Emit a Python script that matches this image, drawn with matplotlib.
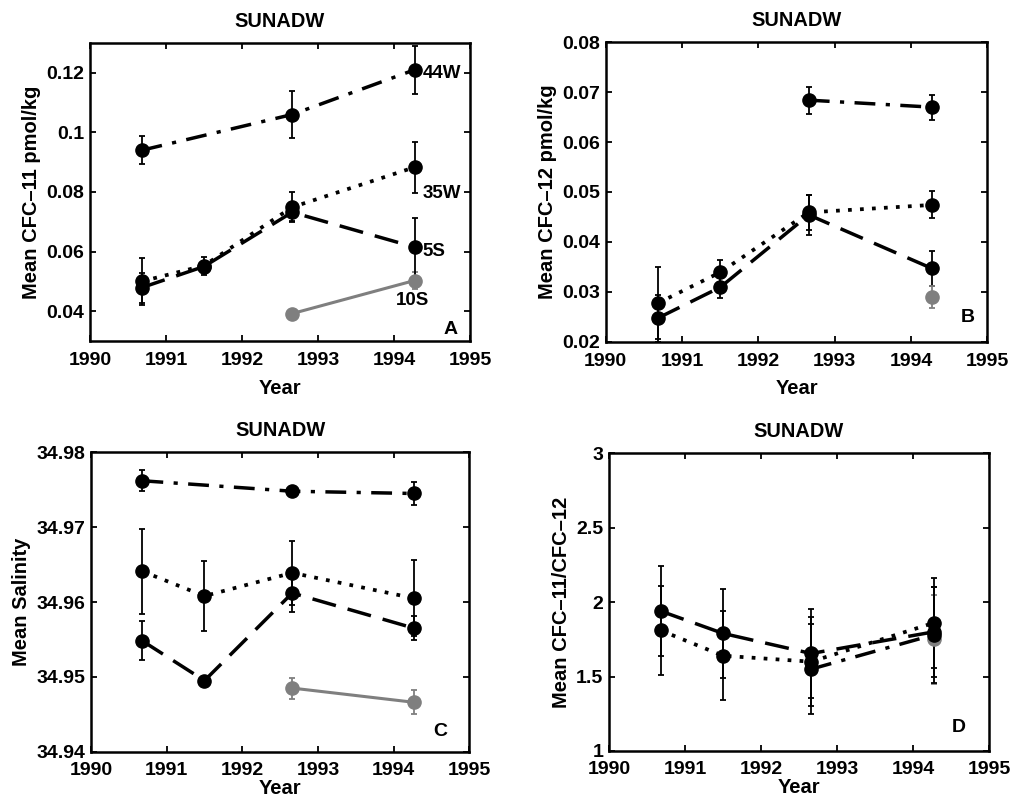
import matplotlib
matplotlib.use("Agg")
import matplotlib.pyplot as plt

plt.rcParams['font.family'] = ['Liberation Sans', 'DejaVu Sans']
plt.rcParams['font.weight'] = 'bold'

# ---------------- data ----------------
years4 = [1990.68, 1991.5, 1992.66, 1994.27]
years3 = [1990.68, 1992.66, 1994.27]
years2 = [1992.66, 1994.27]
years1 = [1994.27]

# Panel A: CFC-11
a_44w = [0.094, 0.106, 0.121]
a_44w_err = [0.0047, 0.008, 0.008]
a_35w = [0.050, 0.0553, 0.0749, 0.0883]
a_35w_err = [0.008, 0.003, 0.005, 0.0085]
a_5s = [0.0479, 0.055, 0.0732, 0.0615]
a_5s_err = [0.005, 0.002, 0.003, 0.0097]
a_10s = [0.0392, 0.0503]
a_10s_err = [0.001, 0.003]

# Panel B: CFC-12
b_44w = [0.0684, 0.0670]
b_44w_err = [0.0027, 0.0025]
b_35w = [0.0277, 0.0339, 0.0459, 0.0474]
b_35w_err = [0.0072, 0.0025, 0.0035, 0.0027]
b_5s = [0.0247, 0.0309, 0.0454, 0.0347]
b_5s_err = [0.0047, 0.0022, 0.004, 0.0035]
b_10s = [0.029]
b_10s_err = [0.0022]

# Panel C: salinity
c_44w = [34.9762, 34.9748, 34.9745]
c_44w_err = [0.0014, 0.0003, 0.0015]
c_35w = [34.9641, 34.9608, 34.9639, 34.9605]
c_35w_err = [0.0057, 0.0047, 0.0043, 0.0051]
c_5s = [34.9548, 34.9495, 34.9612, 34.9565]
c_5s_err = [0.0026, 0.0003, 0.0025, 0.0016]
c_10s = [34.9485, 34.9466]
c_10s_err = [0.0014, 0.0016]

# Panel D: ratio
d_35w = [1.81, 1.64, 1.60, 1.86]
d_35w_err = [0.30, 0.30, 0.30, 0.30]
d_5s = [1.94, 1.79, 1.655, 1.80]
d_5s_err = [0.30, 0.30, 0.30, 0.30]
d_44w = [1.55, 1.78]
d_44w_err = [0.30, 0.32]
d_10s = [1.75]
d_10s_err = [0.30]

xticks = [1990, 1991, 1992, 1993, 1994, 1995]
title = "SUNADW"

# ---------------- styles ----------------
BLACK = 'black'
GREY = '#7f7f7f'
st_44w = dict(color=BLACK, linestyle=(0, (6, 3, 1.2, 3)), lw=2.5)
st_35w = dict(color=BLACK, linestyle=(0, (1, 2.2)), lw=2.7)
st_5s = dict(color=BLACK, linestyle=(0, (7, 3.5)), lw=2.5)
st_10s = dict(color=GREY, linestyle='-', lw=2.2)

fig = plt.figure(figsize=(10.13, 8.02), dpi=100)

positions = [
    [0.0888, 0.5748, 0.3752, 0.3716],
    [0.5980, 0.5740, 0.3767, 0.3733],
    [0.0898, 0.0627, 0.3735, 0.3733],
    [0.6012, 0.0636, 0.3751, 0.3712],
]


def draw(ax, x, y, err, st, ms=9.5):
    ax.errorbar(x, y, yerr=err, fmt='none', ecolor=st['color'], elinewidth=1.3,
                capsize=2, capthick=1.3, zorder=2)
    ax.plot(x, y, color=st['color'], linestyle=st['linestyle'], lw=st['lw'],
            marker='o', markersize=ms, markerfacecolor=st['color'],
            markeredgecolor=st['color'], zorder=3)


def style(ax, ylim, yticks, yticklabels, ylabel, letter, letter_xy, xpad, xlabelpad):
    ax.set_xlim(1990, 1995)
    ax.set_ylim(*ylim)
    ax.set_xticks(xticks)
    ax.set_yticks(yticks)
    ax.set_xticklabels([str(t) for t in xticks], fontsize=14, fontweight='bold')
    ax.set_yticklabels(yticklabels, fontsize=14, fontweight='bold')
    ax.tick_params(direction='in', length=4, width=1.3, top=True, right=True)
    ax.tick_params(axis='x', pad=xpad)
    ax.tick_params(axis='y', pad=4)
    for sp in ax.spines.values():
        sp.set_linewidth(1.8)
    ax.set_title(title, fontsize=14.4, fontweight='bold', pad=11.5)
    ax.set_xlabel('Year', fontsize=14.5, fontweight='bold', labelpad=xlabelpad)
    ax.set_ylabel(ylabel, fontsize=14.5, fontweight='bold', labelpad=4)
    ax.text(letter_xy[0], letter_xy[1], letter, fontsize=14, fontweight='bold',
            ha='center', va='center')


# Panel A
ax = fig.add_axes(positions[0])
draw(ax, years2, a_10s, a_10s_err, st_10s)
draw(ax, years4, a_5s, a_5s_err, st_5s)
draw(ax, years4, a_35w, a_35w_err, st_35w)
draw(ax, years3, a_44w, a_44w_err, st_44w)
style(ax, (0.03, 0.13), [0.04, 0.06, 0.08, 0.1, 0.12],
      ['0.04', '0.06', '0.08', '0.1', '0.12'], 'Mean CFC\u201311 pmol/kg', 'A',
      (1994.74, 0.0337), 8, 7)
ax.text(1994.38, 0.1198, '44W', fontsize=13.5, fontweight='bold', ha='left', va='center')
ax.text(1994.38, 0.0795, '35W', fontsize=13.5, fontweight='bold', ha='left', va='center')
ax.text(1994.38, 0.0600, '5S', fontsize=13.5, fontweight='bold', ha='left', va='center')
ax.text(1994.02, 0.0437, '10S', fontsize=13.5, fontweight='bold', ha='left', va='center')

# Panel B
ax = fig.add_axes(positions[1])
draw(ax, years4, b_5s, b_5s_err, st_5s)
draw(ax, years4, b_35w, b_35w_err, st_35w)
draw(ax, years2, b_44w, b_44w_err, st_44w)
draw(ax, years1, b_10s, b_10s_err, st_10s)
style(ax, (0.02, 0.08), [0.02, 0.03, 0.04, 0.05, 0.06, 0.07, 0.08],
      ['0.02', '0.03', '0.04', '0.05', '0.06', '0.07', '0.08'],
      'Mean CFC\u201312 pmol/kg', 'B', (1994.74, 0.0248), 8, 7)

# Panel C
ax = fig.add_axes(positions[2])
draw(ax, years2, c_10s, c_10s_err, st_10s)
draw(ax, years4, c_5s, c_5s_err, st_5s)
draw(ax, years4, c_35w, c_35w_err, st_35w)
draw(ax, years3, c_44w, c_44w_err, st_44w)
style(ax, (34.94, 34.98), [34.94, 34.95, 34.96, 34.97, 34.98],
      ['34.94', '34.95', '34.96', '34.97', '34.98'], 'Mean Salinity', 'C',
      (1994.62, 34.9427), 7.5, 0)

# Panel D
ax = fig.add_axes(positions[3])
draw(ax, years1, d_10s, d_10s_err, st_10s)
draw(ax, years4, d_5s, d_5s_err, st_5s)
draw(ax, years4, d_35w, d_35w_err, st_35w)
draw(ax, years2, d_44w, d_44w_err, st_44w)
style(ax, (1, 3), [1, 1.5, 2, 2.5, 3], ['1', '1.5', '2', '2.5', '3'],
      'Mean CFC\u201311/CFC\u201312', 'D', (1994.6, 1.16), 7.5, 0)

fig.savefig('out.png', dpi=100)
